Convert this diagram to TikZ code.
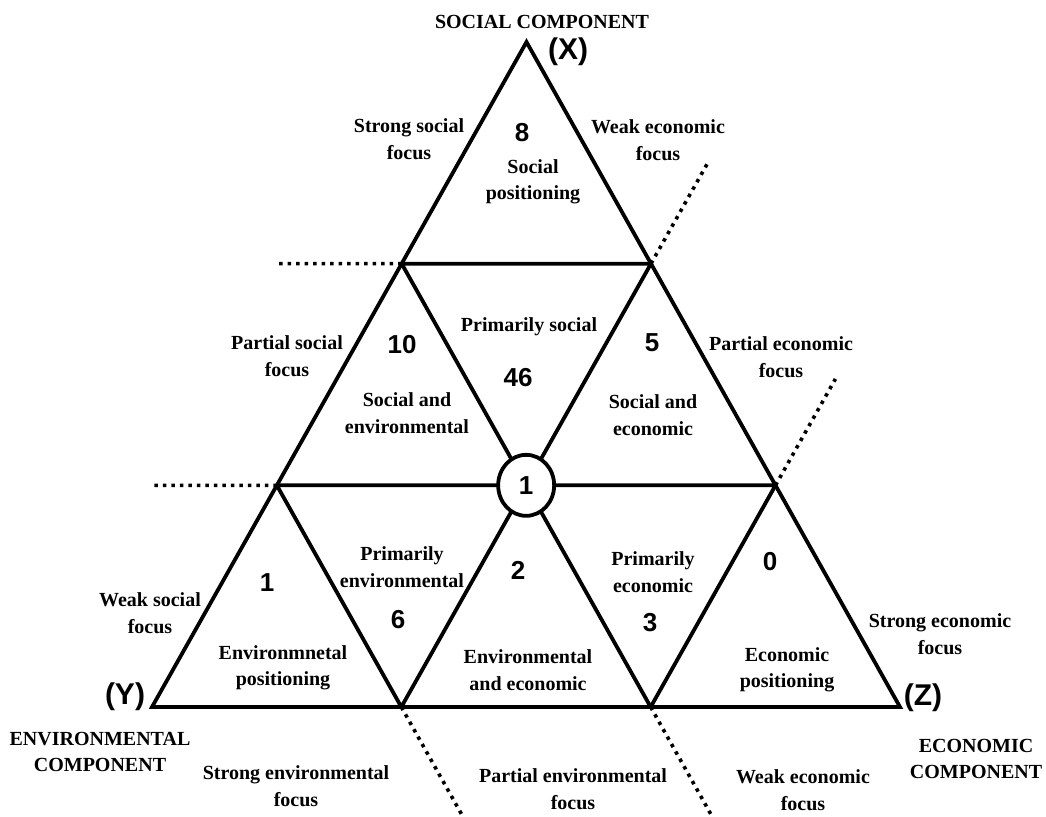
\documentclass[tikz,border=0pt]{standalone}
\usepackage{fontspec}
\setmainfont{Liberation Serif}
\setsansfont{Liberation Sans}
\usetikzlibrary{calc,shapes.geometric}

\begin{document}
\begin{tikzpicture}[x=1pt,y=-1pt,
    lbl/.style={align=center,inner sep=0pt,font=\fontsize{20}{26.5}\selectfont\bfseries},
    num/.style={inner sep=0pt,font=\fontsize{26}{26}\selectfont\sffamily\bfseries},
    corner/.style={inner sep=0pt,font=\fontsize{30}{30}\selectfont\sffamily\bfseries},
    edge/.style={line width=3.8pt},
    ext/.style={line width=3.6pt,dash pattern=on 3.5pt off 5pt}]
\useasboundingbox (0,0) rectangle (1046,816);
% corners of the big triangle and the grid points
\path
    (526.5,42) coordinate (X)
    (152,707) coordinate (Y)
    (900,707) coordinate (Z)
    ($(X)!1/3!(Y)$) coordinate (a1)
    ($(X)!1/3!(Z)$) coordinate (a2)
    ($(X)!2/3!(Y)$) coordinate (b1)
    ($(X)!2/3!(Z)$) coordinate (b3)
    ($(b1)!.5!(b3)$) coordinate (b2)
    ($(Y)!1/3!(Z)$) coordinate (c1)
    ($(Y)!2/3!(Z)$) coordinate (c2)
    ($(a1)!-.5!(a2)$) coordinate (da1)
    ($(b1)!-.5!(b2)$) coordinate (db1)
    ($(a2)!-.23!(c1)$) coordinate (da2)
    ($(b3)!-.48!(c2)$) coordinate (db3)
    ($(c1)!-.5!(b1)$) coordinate (dc1)
    ($(c2)!-.25!(a1)$) coordinate (dc2);
\draw [edge] (X) -- (Y) -- (Z) -- cycle;
\draw [edge] (a1) -- (a2) (b1) -- (b3)
    (a1) -- (c2) (a2) -- (c1) (b1) -- (c1) (b3) -- (c2);
\draw [ext] (a1) -- (da1) (b1) -- (db1) (a2) -- (da2)
    (b3) -- (db3) (c1) -- (dc1) (c2) -- (dc2);
\node [num,draw,ellipse,fill=white,line width=3.8pt,minimum width=56pt,minimum height=61pt] (hub) at (b2) {1};
% corner labels
\node [corner] (cx) at (568,52) {(X)};
\node [corner] (cy) at (125,697) {(Y)};
\node [corner] (cz) at (923,698) {(Z)};
\node [lbl] (soc) at (542,22) {SOCIAL COMPONENT};
\node [lbl] (env) at (100,752) {ENVIRONMENTAL\\COMPONENT};
\node [lbl] (eco) at (976,759) {ECONOMIC\\COMPONENT};
% counts
\node [num] (n8) at (522,133) {8};
\node [num] (n10) at (402,345) {10};
\node [num] (n46) at (518,378) {46};
\node [num] (n5) at (652,343) {5};
\node [num] (n1) at (267,583) {1};
\node [num] (n6) at (398,620) {6};
\node [num] (n2) at (518,570) {2};
\node [num] (n3) at (650,623) {3};
\node [num] (n0) at (770,562) {0};
% cells
\node [lbl] (socpos) at (533,182) {Social\\positioning};
\node [lbl] (primsoc) at (529,327) {Primarily social};
\node [lbl] (socenv) at (407,413) {Social and\\environmental};
\node [lbl] (soceco) at (653,415) {Social and\\economic};
\node [lbl] (envpos) at (283,668) {Environmnetal\\positioning};
\node [lbl] (primenv) at (402,567) {Primarily\\environmental};
\node [lbl] (enveco) at (528,670) {Environmental\\and economic};
\node [lbl] (primeco) at (653,572) {Primarily\\economic};
\node [lbl] (ecopos) at (787,670) {Economic\\positioning};
% focus labels round the outside
\node [lbl] (strsoc) at (409,139) {Strong social\\focus};
\node [lbl] (weakeco) at (658,140) {Weak economic\\focus};
\node [lbl] (partsoc) at (287,356) {Partial social\\focus};
\node [lbl] (parteco) at (781,357) {Partial economic\\focus};
\node [lbl] (weaksoc) at (150,613) {Weak social\\focus};
\node [lbl] (streco) at (940,634) {Strong economic\\focus};
\node [lbl] (strenv) at (296,786) {Strong environmental\\focus};
\node [lbl] (partenv) at (573,789) {Partial environmental\\focus};
\node [lbl] (weakeco2) at (803,790) {Weak economic\\focus};
\end{tikzpicture}
\end{document}
